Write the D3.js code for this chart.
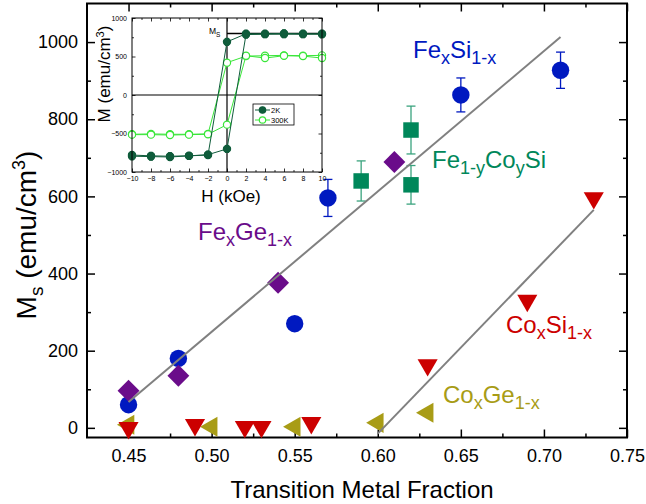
<!DOCTYPE html>
<html><head><meta charset="utf-8">
<script src="https://cdn.jsdelivr.net/npm/d3@7"></script>
<style>body{margin:0;background:#fff}svg{display:block}text{font-family:"Liberation Sans",Arial,sans-serif}</style>
</head><body><svg id="c" width="646" height="504"></svg>
<script>
// ---- main chart data ----
const xTicks = [0.45,0.50,0.55,0.60,0.65,0.70,0.75];
const xMinor = [0.475,0.525,0.575,0.625,0.675,0.725];
const yTicks = [0,200,400,600,800,1000];
const yMinor = [100,300,500,700,900];

const fesiX = [0.45,0.48,0.55,0.57,0.65,0.71];
const fesiY = [60,180,270,596,863,927];
const fesiErr = [0,0,0,48,44,47];

const fegeX = [0.45,0.48,0.54,0.61];
const fegeY = [96,135,376,689];

const fecosiX = [0.59,0.62,0.62];
const fecosiY = [640,772,630];
const fecosiErr = [52,62,50];

const cosiX = [0.45,0.49,0.52,0.53,0.56,0.63,0.69,0.73];
const cosiY = [0,8,3,3,13,163,330,596];

const cogeX = [0.45,0.50,0.55,0.60,0.63];
const cogeY = [8,3,3,13,39];

const fit1X = [0.45,0.71], fit1Y = [67,1013];
const fit2X = [0.60,0.73], fit2Y = [-15,565];

// ---- inset data ----
const insetH = [-10,-8,-6,-4,-2,0,2,4,6,8,10];
const m2kDesc = [-780,-790,-795,-790,-780,690,795,795,800,795,795];
const m2kAsc  = [-795,-800,-805,-790,-775,-700,785,790,790,790,790];
const m300Desc = [-510,-505,-510,-510,-505,420,505,510,515,510,515];
const m300Asc  = [-515,-515,-520,-515,-510,-385,510,480,510,505,480];
const insetXTicks = [-10,-8,-6,-4,-2,0,2,4,6,8,10];
const insetXMinor = [-9,-7,-5,-3,-1,1,3,5,7,9];
const insetYTicks = [-1000,-500,0,500,1000];
const insetYMinor = [-750,-250,250,750];
const msLevel = 800;

const FONT = '"Liberation Sans", Arial, sans-serif';
const svg = d3.select("#c");

const X0=87, X1=627, Y0=437.5, Y1=3.5;
const x = d3.scaleLinear().domain([0.425,0.75]).range([X0,X1]);
const y = d3.scaleLinear().domain([-25,1100]).range([Y0,Y1]);

function styleAxis(g, fs){
  g.select(".domain").remove();
  g.attr("font-family", FONT).attr("font-size", fs);
  g.selectAll("line").attr("stroke","#000").attr("stroke-width",1.5);
  g.selectAll("text").attr("fill","#000");
}

// main axes
svg.append("g").attr("transform",`translate(0,${Y0})`)
  .call(d3.axisBottom(x).tickValues(xTicks).tickSizeInner(-8).tickSizeOuter(0).tickPadding(12).tickFormat(d3.format(".2f")))
  .call(g=>styleAxis(g,18));
svg.append("g").attr("transform",`translate(0,${Y0})`)
  .call(d3.axisBottom(x).tickValues(xMinor).tickSizeInner(-4).tickSizeOuter(0).tickFormat(""))
  .call(g=>styleAxis(g,18));
svg.append("g").attr("transform",`translate(0,${Y1})`)
  .call(d3.axisTop(x).tickValues(xTicks).tickSizeInner(-8).tickSizeOuter(0).tickFormat(""))
  .call(g=>styleAxis(g,18));
svg.append("g").attr("transform",`translate(0,${Y1})`)
  .call(d3.axisTop(x).tickValues(xMinor).tickSizeInner(-4).tickSizeOuter(0).tickFormat(""))
  .call(g=>styleAxis(g,18));
svg.append("g").attr("transform",`translate(${X0},0)`)
  .call(d3.axisLeft(y).tickValues(yTicks).tickSizeInner(-8).tickSizeOuter(0).tickPadding(9).tickFormat(d3.format("d")))
  .call(g=>styleAxis(g,18));
svg.append("g").attr("transform",`translate(${X0},0)`)
  .call(d3.axisLeft(y).tickValues(yMinor).tickSizeInner(-4).tickSizeOuter(0).tickFormat(""))
  .call(g=>styleAxis(g,18));
svg.append("g").attr("transform",`translate(${X1},0)`)
  .call(d3.axisRight(y).tickValues(yTicks).tickSizeInner(-8).tickSizeOuter(0).tickFormat(""))
  .call(g=>styleAxis(g,18));
svg.append("g").attr("transform",`translate(${X1},0)`)
  .call(d3.axisRight(y).tickValues(yMinor).tickSizeInner(-4).tickSizeOuter(0).tickFormat(""))
  .call(g=>styleAxis(g,18));

svg.append("rect").attr("x",X0).attr("y",Y1).attr("width",X1-X0).attr("height",Y0-Y1)
  .attr("fill","none").attr("stroke","#000").attr("stroke-width",2);

// axis titles
const yl = svg.append("text").attr("transform","translate(36,235) rotate(-90)")
  .attr("text-anchor","middle").attr("font-size",28).attr("fill","#000");
yl.append("tspan").text("M");
yl.append("tspan").text("s").attr("font-size",19).attr("dy",7);
yl.append("tspan").text(" (emu/cm").attr("dy",-7);
yl.append("tspan").text("3").attr("font-size",18).attr("dy",-11);
yl.append("tspan").text(")").attr("dy",11);

svg.append("text").attr("x",362).attr("y",498).attr("text-anchor","middle")
  .attr("font-size",24).attr("fill","#000").text("Transition Metal Fraction");

// helper
function zip(a,b,c){ return a.map((v,i)=>({x:v,y:b[i],e:c?c[i]:0})); }

function errBars(data,color){
  const g = svg.append("g").attr("stroke",color).attr("stroke-width",1.3);
  data.filter(d=>d.e>0).forEach(d=>{
    g.append("line").attr("x1",x(d.x)).attr("x2",x(d.x)).attr("y1",y(d.y-d.e)).attr("y2",y(d.y+d.e));
    g.append("line").attr("x1",x(d.x)-4.5).attr("x2",x(d.x)+4.5).attr("y1",y(d.y-d.e)).attr("y2",y(d.y-d.e));
    g.append("line").attr("x1",x(d.x)-4.5).attr("x2",x(d.x)+4.5).attr("y1",y(d.y+d.e)).attr("y2",y(d.y+d.e));
  });
}
function markers(data,type,size,rot,color){
  svg.append("g").selectAll("path").data(data).join("path")
    .attr("d", d3.symbol().type(type).size(size))
    .attr("transform", d=>`translate(${x(d.x)},${y(d.y)}) rotate(${rot})`)
    .attr("fill", color);
}

const fesi = zip(fesiX,fesiY,fesiErr);
const fege = zip(fegeX,fegeY);
const fecosi = zip(fecosiX,fecosiY,fecosiErr);
const cosi = zip(cosiX,cosiY);
const coge = zip(cogeX,cogeY);

const BLUE="#0019c0", PURPLE="#6a0c8a", GREEN="#00875a", RED="#cc0000", OLIVE="#a89c16";

errBars(fesi, BLUE);
errBars(fecosi, "#3aa37e");
markers(fesi, d3.symbolCircle, 238, 0, BLUE);
markers(fege, d3.symbolSquare, 240, 45, PURPLE);
markers(fecosi, d3.symbolSquare, 240, 0, GREEN);
markers(coge, d3.symbolTriangle, 175, -90, OLIVE);
markers(cosi, d3.symbolTriangle, 175, 180, RED);

// fit lines
const line = d3.line().x(d=>x(d.x)).y(d=>y(d.y));
svg.append("path").attr("d", line(zip(fit1X,fit1Y))).attr("stroke","#808080").attr("stroke-width",2).attr("fill","none");
svg.append("path").attr("d", line(zip(fit2X,fit2Y))).attr("stroke","#808080").attr("stroke-width",2).attr("fill","none");

// series labels
function label(xp,yp,parts,color){
  const t = svg.append("text").attr("x",xp).attr("y",yp).attr("font-size",24).attr("fill",color);
  let shifted=false;
  parts.forEach(p=>{
    const ts = t.append("tspan").text(p[0]);
    if(p[1]){ ts.attr("font-size",18); if(!shifted){ts.attr("dy",6); shifted=true;} }
    else if(shifted){ ts.attr("dy",-6); shifted=false; }
  });
}
label(413,58,[["Fe",0],["x",1],["Si",0],["1-x",1]],BLUE);
label(432,168,[["Fe",0],["1-y",1],["Co",0],["y",1],["Si",0]],GREEN);
label(198,240,[["Fe",0],["x",1],["Ge",0],["1-x",1]],PURPLE);
label(506,333,[["Co",0],["x",1],["Si",0],["1-x",1]],RED);
label(443,403,[["Co",0],["x",1],["Ge",0],["1-x",1]],OLIVE);

// ---- inset ----
const IX0=132, IX1=322, IY0=172, IY1=18;
const ix = d3.scaleLinear().domain([-10,10]).range([IX0,IX1]);
const iy = d3.scaleLinear().domain([-1000,1000]).range([IY0,IY1]);
const ins = svg.append("g");
ins.append("rect").attr("x",IX0).attr("y",IY1).attr("width",IX1-IX0).attr("height",IY0-IY1).attr("fill","#fff");

function iStyle(g){
  g.select(".domain").remove();
  g.attr("font-family",FONT).attr("font-size",7);
  g.selectAll("line").attr("stroke","#000").attr("stroke-width",0.8);
  g.selectAll("text").attr("fill","#000");
}
ins.append("g").attr("transform",`translate(0,${IY0})`)
  .call(d3.axisBottom(ix).tickValues(insetXTicks).tickSizeInner(-3.5).tickSizeOuter(0).tickPadding(4).tickFormat(d3.format("d"))).call(iStyle);
ins.append("g").attr("transform",`translate(0,${IY0})`)
  .call(d3.axisBottom(ix).tickValues(insetXMinor).tickSizeInner(-2).tickSizeOuter(0).tickFormat("")).call(iStyle);
ins.append("g").attr("transform",`translate(0,${IY1})`)
  .call(d3.axisTop(ix).tickValues(insetXTicks).tickSizeInner(-3.5).tickSizeOuter(0).tickFormat("")).call(iStyle);
ins.append("g").attr("transform",`translate(0,${IY1})`)
  .call(d3.axisTop(ix).tickValues(insetXMinor).tickSizeInner(-2).tickSizeOuter(0).tickFormat("")).call(iStyle);
ins.append("g").attr("transform",`translate(${IX0},0)`)
  .call(d3.axisLeft(iy).tickValues(insetYTicks).tickSizeInner(-3.5).tickSizeOuter(0).tickPadding(5).tickFormat(d3.format("d"))).call(iStyle);
ins.append("g").attr("transform",`translate(${IX0},0)`)
  .call(d3.axisLeft(iy).tickValues(insetYMinor).tickSizeInner(-2).tickSizeOuter(0).tickFormat("")).call(iStyle);
ins.append("g").attr("transform",`translate(${IX1},0)`)
  .call(d3.axisRight(iy).tickValues(insetYTicks).tickSizeInner(-3.5).tickSizeOuter(0).tickFormat("")).call(iStyle);
ins.append("g").attr("transform",`translate(${IX1},0)`)
  .call(d3.axisRight(iy).tickValues(insetYMinor).tickSizeInner(-2).tickSizeOuter(0).tickFormat("")).call(iStyle);

// zero lines
ins.append("line").attr("x1",ix(-10)).attr("x2",ix(10)).attr("y1",iy(0)).attr("y2",iy(0)).attr("stroke","#000").attr("stroke-width",1.2);
ins.append("line").attr("x1",ix(0)).attr("x2",ix(0)).attr("y1",iy(-1000)).attr("y2",iy(1000)).attr("stroke","#000").attr("stroke-width",1.2);
// Ms line
ins.append("line").attr("x1",ix(0)).attr("x2",ix(10)).attr("y1",iy(msLevel)).attr("y2",iy(msLevel)).attr("stroke","#000").attr("stroke-width",1.5);
const msT = ins.append("text").attr("x",ix(-1.9)).attr("y",iy(msLevel)+1).attr("font-size",8.5).attr("fill","#000");
msT.append("tspan").text("M");
msT.append("tspan").text("S").attr("font-size",6.5).attr("dy",2.5);

const DK="#0f5c3b", LT="#39e639";
const iline = d3.line().x((d,i)=>ix(insetH[i])).y(d=>iy(d));
function branch(vals,color,filled,err){
  ins.append("path").attr("d",iline(vals)).attr("fill","none").attr("stroke",color).attr("stroke-width",1);
  const g = ins.append("g");
  vals.forEach((v,i)=>{
    const cx=ix(insetH[i]), cy=iy(v);
    g.append("line").attr("x1",cx).attr("x2",cx).attr("y1",iy(v-err)).attr("y2",iy(v+err)).attr("stroke",color).attr("stroke-width",1.2);
    g.append("line").attr("x1",cx-2).attr("x2",cx+2).attr("y1",iy(v-err)).attr("y2",iy(v-err)).attr("stroke",color).attr("stroke-width",1);
    g.append("line").attr("x1",cx-2).attr("x2",cx+2).attr("y1",iy(v+err)).attr("y2",iy(v+err)).attr("stroke",color).attr("stroke-width",1);
    g.append("circle").attr("cx",cx).attr("cy",cy).attr("r",3.6)
      .attr("fill",filled?color:"#fff").attr("stroke",color).attr("stroke-width",1.2);
  });
}
branch(m300Desc,LT,false,18);
branch(m300Asc,LT,false,18);
branch(m2kDesc,DK,true,45);
branch(m2kAsc,DK,true,45);

ins.append("rect").attr("x",IX0).attr("y",IY1).attr("width",IX1-IX0).attr("height",IY0-IY1)
  .attr("fill","none").attr("stroke","#000").attr("stroke-width",1);

// inset legend
const lg = ins.append("g");
lg.append("rect").attr("x",253).attr("y",104).attr("width",41).attr("height",21).attr("fill","#fff").attr("stroke","#000").attr("stroke-width",0.8);
[[DK,true,"2K",110],[LT,false,"300K",120]].forEach(e=>{
  lg.append("line").attr("x1",255).attr("x2",270).attr("y1",e[3]).attr("y2",e[3]).attr("stroke",e[0]).attr("stroke-width",1);
  lg.append("circle").attr("cx",262.5).attr("cy",e[3]).attr("r",3.2).attr("fill",e[1]?e[0]:"#fff").attr("stroke",e[0]).attr("stroke-width",1.2);
  lg.append("text").attr("x",271).attr("y",e[3]+2.8).attr("font-size",7.5).attr("fill","#000").text(e[2]);
});

// inset titles
svg.append("text").attr("x",231).attr("y",202).attr("text-anchor","middle").attr("font-size",17).attr("fill","#000").text("H (kOe)");
const iyl = svg.append("text").attr("transform","translate(110,74) rotate(-90)").attr("text-anchor","middle").attr("font-size",17).attr("fill","#000");
iyl.append("tspan").text("M (emu/cm");
iyl.append("tspan").text("3").attr("font-size",11).attr("dy",-6);
iyl.append("tspan").text(")").attr("dy",6);
</script></body></html>
